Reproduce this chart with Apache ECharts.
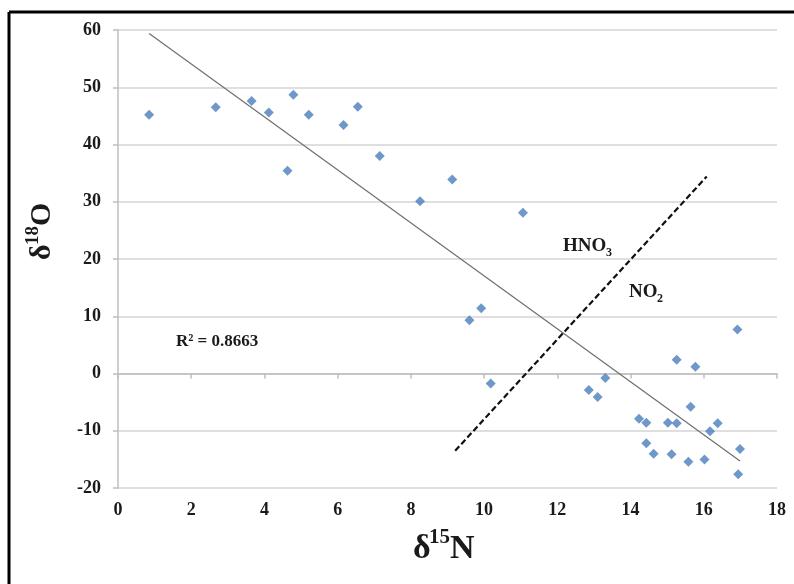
<!DOCTYPE html>
<html>
<head>
<meta charset="utf-8">
<script src="https://cdn.jsdelivr.net/npm/echarts@6/dist/echarts.min.js"></script>
<style>
  html, body { margin: 0; padding: 0; background: #fff; }
  #chart { width: 794px; height: 584px; }
</style>
</head>
<body>
<div id="chart"></div>
<script>
// Sample isotope values: delta 15N (x) and delta 18O (y)
const d15N = [0.85, 2.67, 3.65, 4.12, 4.63, 4.79, 5.21, 6.16, 6.55, 7.15,
              8.25, 9.13, 11.06, 9.60, 9.92, 10.18, 12.86, 13.10, 13.31, 14.23,
              14.43, 14.43, 14.63, 15.02, 15.12, 15.26, 15.26, 15.58, 15.64, 15.77,
              16.02, 16.17, 16.38, 16.92, 16.94, 16.99];
const d18O = [45.2, 46.5, 47.6, 45.6, 35.4, 48.7, 45.2, 43.4, 46.6, 38.0,
              30.1, 33.9, 28.1, 9.3, 11.4, -1.75, -2.9, -4.1, -0.8, -7.9,
              -8.6, -12.2, -14.0, -8.6, -14.1, -8.7, 2.4, -15.4, -5.8, 1.2,
              -15.0, -10.1, -8.7, 7.7, -17.6, -13.2];

// Linear trendline endpoints (over the sample range)
const trendX = [0.85, 16.99];
const trendY = [59.4, -15.3];

// HNO3 / NO2 dividing line endpoints
const divideX = [9.21, 16.08];
const divideY = [-13.5, 34.4];

// Axis tick settings
const xTicks = { min: 0, max: 18, step: 2 };
const yTicks = { min: -20, max: 60, step: 10 };

const serif = '"Liberation Serif", "Times New Roman", serif';
const ink = '#1a1a1a';

const pairs = (xs, ys) => xs.map((x, i) => [x, ys[i]]);

const txt = (left, top, text, size) => ({
  type: 'text', left, top,
  style: { text, fontFamily: serif, fontWeight: 'bold', fontSize: size, fill: ink }
});

const chart = echarts.init(document.getElementById('chart'), null, { renderer: 'canvas' });

chart.setOption({
  backgroundColor: '#ffffff',
  animation: false,
  grid: { left: 118, right: 17, top: 30, bottom: 96 },
  xAxis: {
    type: 'value',
    min: xTicks.min, max: xTicks.max, interval: xTicks.step,
    axisLine: { show: true, lineStyle: { color: '#bfbfbf', width: 1.5 } },
    axisTick: { show: true, length: 5, lineStyle: { color: '#bfbfbf', width: 1.5 } },
    splitLine: { show: false },
    axisLabel: { color: ink, fontFamily: serif, fontWeight: 'bold', fontSize: 18, margin: 13 }
  },
  yAxis: {
    type: 'value',
    min: yTicks.min, max: yTicks.max, interval: yTicks.step,
    axisLine: { show: true, lineStyle: { color: '#bfbfbf', width: 1.5 } },
    axisTick: { show: true, length: 5, lineStyle: { color: '#bfbfbf', width: 1.5 } },
    splitLine: { show: true, lineStyle: { color: '#d4d4d4', width: 1.5 } },
    axisLabel: { color: ink, fontFamily: serif, fontWeight: 'bold', fontSize: 18, margin: 17 }
  },
  series: [
    {
      name: 'trend',
      type: 'line',
      data: pairs(trendX, trendY),
      showSymbol: false,
      lineStyle: { color: '#6f6f6f', width: 1.2 },
      z: 2
    },
    {
      name: 'divide',
      type: 'line',
      data: pairs(divideX, divideY),
      showSymbol: false,
      lineStyle: { color: '#111111', width: 2.2, type: [6, 3] },
      z: 2
    },
    {
      name: 'samples',
      type: 'scatter',
      data: pairs(d15N, d18O),
      symbol: 'diamond',
      symbolSize: 10,
      itemStyle: { color: '#4a7ebb' },
      z: 3
    }
  ],
  graphic: [
    // frame lines
    { type: 'line', shape: { x1: 9, y1: 12, x2: 794, y2: 12 }, style: { stroke: '#000', lineWidth: 3 } },
    { type: 'line', shape: { x1: 9, y1: 12, x2: 9, y2: 584 }, style: { stroke: '#000', lineWidth: 3 } },
    // x-axis title: δ15N
    txt(413, 532, 'δ', 34),
    txt(429, 527, '15', 21),
    txt(450, 532, 'N', 34),
    // y-axis title: δ18O, rotated to read bottom-to-top
    {
      type: 'group', x: 27, y: 260, rotation: Math.PI / 2,
      children: [
        { type: 'text', x: 0, y: 0, style: { text: 'δ', fontFamily: serif, fontWeight: 'bold', fontSize: 30, fill: ink } },
        { type: 'text', x: 15, y: -3, style: { text: '18', fontFamily: serif, fontWeight: 'bold', fontSize: 19, fill: ink } },
        { type: 'text', x: 34, y: 0, style: { text: 'O', fontFamily: serif, fontWeight: 'bold', fontSize: 30, fill: ink } }
      ]
    },
    // region annotations
    txt(563, 237, 'HNO', 19),
    txt(606, 247, '3', 12),
    txt(629, 283, 'NO', 19),
    txt(657, 293, '2', 12),
    // trendline fit
    txt(176, 333, 'R² = 0.8663', 17)
  ]
});
</script>
</body>
</html>
